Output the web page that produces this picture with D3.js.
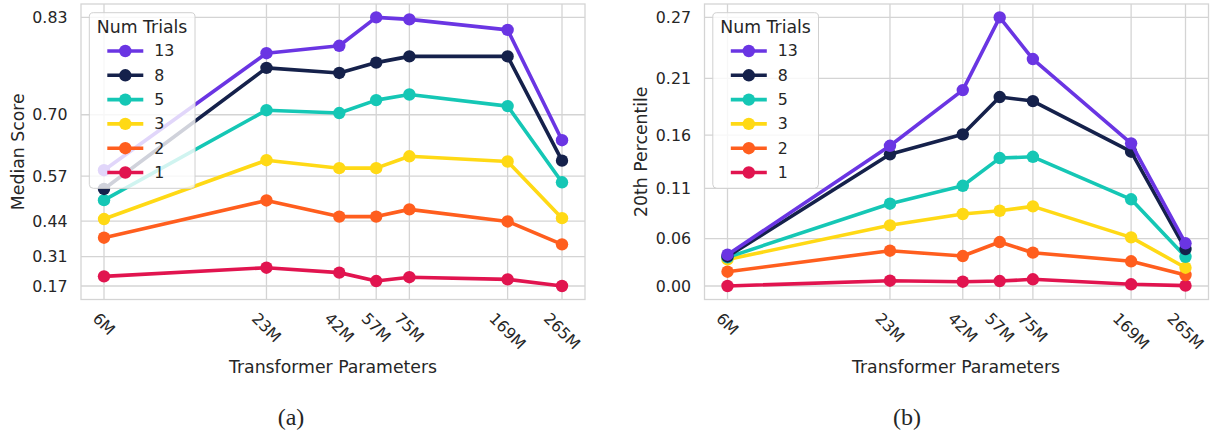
<!DOCTYPE html>
<html>
<head>
<meta charset="utf-8">
<script src="https://cdn.jsdelivr.net/npm/d3@7"></script>
<style>
  html, body { margin: 0; padding: 0; background: #ffffff; }
  svg { display: block; }
  text { font-family: "DejaVu Sans", sans-serif; fill: #262626; }
</style>
</head>
<body>
<svg id="chart" width="1217" height="435"></svg>
<script>
// ---------------- data ----------------
const paramLabels = ["6M", "23M", "42M", "57M", "75M", "169M", "265M"];
const paramValues = [6, 23, 42, 57, 75, 169, 265];

const trialLabels = ["13", "8", "5", "3", "2", "1"];
const trialColors = ["#6a35e3", "#15214b", "#15c7b5", "#ffd915", "#ff5e1e", "#e1144f"];

// (a) Median Score
const median13 = [0.581, 0.790, 0.799, 0.830, 0.828, 0.817, 0.649];
const median8  = [0.532, 0.771, 0.764, 0.778, 0.786, 0.786, 0.604];
const median5  = [0.500, 0.706, 0.701, 0.723, 0.732, 0.713, 0.550];
const median3  = [0.441, 0.605, 0.586, 0.586, 0.614, 0.602, 0.444];
const median2  = [0.376, 0.499, 0.449, 0.449, 0.472, 0.433, 0.351];
const median1  = [0.216, 0.255, 0.233, 0.194, 0.212, 0.202, 0.170];
const medianTickValues = [0.17, 0.302, 0.434, 0.566, 0.698, 0.83];
const medianTickLabels = ["0.17", "0.31", "0.44", "0.57", "0.70", "0.83"];

// (b) 20th Percentile
const pct13 = [0.036, 0.1515, 0.2051, 0.270, 0.2335, 0.1539, 0.0488];
const pct8  = [0.034, 0.1430, 0.1628, 0.1986, 0.1948, 0.1456, 0.0424];
const pct5  = [0.033, 0.0919, 0.1108, 0.1392, 0.1405, 0.0966, 0.0337];
const pct3  = [0.0306, 0.0686, 0.0809, 0.0844, 0.0891, 0.0554, 0.0212];
const pct2  = [0.0166, 0.0405, 0.0345, 0.0502, 0.0383, 0.0285, 0.0128];
const pct1  = [0.000, 0.0062, 0.0050, 0.0058, 0.0078, 0.0020, 0.0004];
const pctTickValues = [0.0, 0.054, 0.108, 0.162, 0.216, 0.27];
const pctTickLabels = ["0.00", "0.06", "0.11", "0.16", "0.21", "0.27"];

// ---------------- drawing ----------------
const svg = d3.select("#chart");
const GRID = "#d4d4d4";
const TICK_FS = 15.8;

function drawPanel(cfg) {
  const g = svg.append("g");
  const L = cfg.left, R = cfg.left + 504, T = 4, B = 299.5;

  const x = d3.scaleLog().domain([paramValues[0], paramValues[paramValues.length - 1]])
    .range([L + 23, R - 23]);
  // y axis: log scale of (1 - value)
  const yInner = d3.scaleLog()
    .domain([1 - cfg.ticks[0], 1 - cfg.ticks[cfg.ticks.length - 1]])
    .range([B - 13.5, T + 13.4]);
  const y = v => yInner(1 - v);

  // grid
  g.append("g").selectAll("line").data(paramValues).join("line")
    .attr("x1", d => x(d)).attr("x2", d => x(d))
    .attr("y1", T).attr("y2", B)
    .attr("stroke", GRID).attr("stroke-width", 1.3);
  g.append("g").selectAll("line").data(cfg.ticks).join("line")
    .attr("x1", L).attr("x2", R)
    .attr("y1", d => y(d)).attr("y2", d => y(d))
    .attr("stroke", GRID).attr("stroke-width", 1.3);
  // frame
  g.append("rect").attr("x", L).attr("y", T).attr("width", R - L).attr("height", B - T)
    .attr("fill", "none").attr("stroke", GRID).attr("stroke-width", 1.3);

  // y tick labels
  g.append("g").selectAll("text").data(cfg.ticks).join("text")
    .attr("x", L - 13.5).attr("y", d => y(d))
    .attr("text-anchor", "end").attr("dominant-baseline", "central")
    .style("font-size", TICK_FS + "px")
    .text((d, i) => cfg.tickLabels[i]);

  // x tick labels (rotated)
  const xt = g.append("g").selectAll("text").data(paramValues).join("text")
    .attr("text-anchor", "middle").attr("dominant-baseline", "central")
    .style("font-size", TICK_FS + "px")
    .text((d, i) => paramLabels[i]);
  xt.each(function (d) {
    const w = this.getComputedTextLength();
    const cy = 310 + (w + TICK_FS) * 0.3536;
    d3.select(this).attr("transform", `translate(${x(d)},${cy}) rotate(45)`);
  });

  // axis labels
  g.append("text")
    .attr("transform", `translate(${L - 63.5},${(T + B) / 2}) rotate(-90)`)
    .attr("text-anchor", "middle").attr("dominant-baseline", "central")
    .style("font-size", "17.3px")
    .text(cfg.yLabel);
  g.append("text")
    .attr("x", cfg.xLabelX).attr("y", 372.5)
    .attr("text-anchor", "middle")
    .style("font-size", "17.3px")
    .text("Transformer Parameters");

  // caption
  g.append("text")
    .attr("x", cfg.captionX).attr("y", 425)
    .attr("text-anchor", "middle")
    .style("font-family", "'Liberation Serif', 'DejaVu Serif', serif")
    .style("font-size", "24px")
    .text(cfg.caption);

  // series (drawn ascending so 13 trials is on top)
  const line = d3.line().x((d, i) => x(paramValues[i])).y(d => y(d));
  const order = d3.range(cfg.series.length).reverse();
  order.forEach(k => {
    const vals = cfg.series[k];
    const sg = g.append("g");
    sg.append("path").datum(vals)
      .attr("d", line)
      .attr("fill", "none").attr("stroke", trialColors[k])
      .attr("stroke-width", 3.6).attr("stroke-linejoin", "round");
    sg.selectAll("circle").data(vals).join("circle")
      .attr("cx", (d, i) => x(paramValues[i])).attr("cy", d => y(d))
      .attr("r", 6.2).attr("fill", trialColors[k]);
  });

  // legend
  const lg = g.append("g").attr("transform", `translate(${L + 8.3},${T + 8.7})`);
  lg.append("rect").attr("width", 105.7).attr("height", 175.6).attr("rx", 4)
    .attr("fill", "#ffffff").attr("fill-opacity", 0.8)
    .attr("stroke", "#d0d0d0").attr("stroke-width", 1);
  lg.append("text").attr("x", 52.8).attr("y", 14)
    .attr("text-anchor", "middle").attr("dominant-baseline", "central")
    .style("font-size", "17.3px").text("Num Trials");
  trialLabels.forEach((lab, k) => {
    const yy = 38.3 + k * 24.3;
    lg.append("line").attr("x1", 18).attr("x2", 54).attr("y1", yy).attr("y2", yy)
      .attr("stroke", trialColors[k]).attr("stroke-width", 3.6);
    lg.append("circle").attr("cx", 36).attr("cy", yy).attr("r", 6.2).attr("fill", trialColors[k]);
    lg.append("text").attr("x", 65).attr("y", yy)
      .attr("dominant-baseline", "central")
      .style("font-size", "15.8px").text(lab);
  });
}

drawPanel({
  left: 81,
  ticks: medianTickValues,
  tickLabels: medianTickLabels,
  yLabel: "Median Score",
  series: [median13, median8, median5, median3, median2, median1],
  xLabelX: 333,
  captionX: 291,
  caption: "(a)"
});

drawPanel({
  left: 704.5,
  ticks: pctTickValues,
  tickLabels: pctTickLabels,
  yLabel: "20th Percentile",
  series: [pct13, pct8, pct5, pct3, pct2, pct1],
  xLabelX: 956,
  captionX: 907,
  caption: "(b)"
});
</script>
</body>
</html>
